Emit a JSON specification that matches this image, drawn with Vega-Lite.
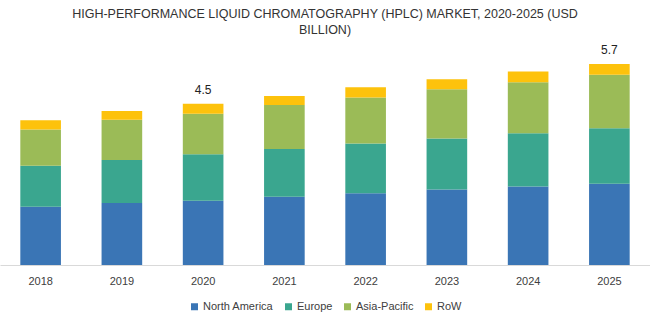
{
  "$schema": "https://vega.github.io/schema/vega-lite/v6.json",
  "width": 650,
  "height": 213,
  "autosize": {"type": "none"},
  "padding": {"top": 52, "left": 0, "right": 0, "bottom": 58},
  "background": "white",
  "title": {
    "text": ["HIGH-PERFORMANCE LIQUID CHROMATOGRAPHY (HPLC) MARKET, 2020-2025 (USD", "BILLION)"],
    "font": "Liberation Sans",
    "fontSize": 12.5,
    "fontWeight": "normal",
    "color": "#333333",
    "anchor": "middle",
    "lineHeight": 16,
    "offset": 8
  },
  "config": {
    "view": {"stroke": null},
    "font": "Liberation Sans"
  },
  "datasets": {
    "market": [
      {"year": "2018", "region": "North America", "order": 1, "value": 1.64},
      {"year": "2018", "region": "Europe", "order": 2, "value": 1.155},
      {"year": "2018", "region": "Asia-Pacific", "order": 3, "value": 1.025},
      {"year": "2018", "region": "RoW", "order": 4, "value": 0.26},
      {"year": "2019", "region": "North America", "order": 1, "value": 1.75},
      {"year": "2019", "region": "Europe", "order": 2, "value": 1.21},
      {"year": "2019", "region": "Asia-Pacific", "order": 3, "value": 1.13},
      {"year": "2019", "region": "RoW", "order": 4, "value": 0.25},
      {"year": "2020", "region": "North America", "order": 1, "value": 1.81},
      {"year": "2020", "region": "Europe", "order": 2, "value": 1.31},
      {"year": "2020", "region": "Asia-Pacific", "order": 3, "value": 1.14},
      {"year": "2020", "region": "RoW", "order": 4, "value": 0.28},
      {"year": "2021", "region": "North America", "order": 1, "value": 1.92},
      {"year": "2021", "region": "Europe", "order": 2, "value": 1.35},
      {"year": "2021", "region": "Asia-Pacific", "order": 3, "value": 1.24},
      {"year": "2021", "region": "RoW", "order": 4, "value": 0.25},
      {"year": "2022", "region": "North America", "order": 1, "value": 2.02},
      {"year": "2022", "region": "Europe", "order": 2, "value": 1.40},
      {"year": "2022", "region": "Asia-Pacific", "order": 3, "value": 1.30},
      {"year": "2022", "region": "RoW", "order": 4, "value": 0.29},
      {"year": "2023", "region": "North America", "order": 1, "value": 2.13},
      {"year": "2023", "region": "Europe", "order": 2, "value": 1.43},
      {"year": "2023", "region": "Asia-Pacific", "order": 3, "value": 1.39},
      {"year": "2023", "region": "RoW", "order": 4, "value": 0.28},
      {"year": "2024", "region": "North America", "order": 1, "value": 2.21},
      {"year": "2024", "region": "Europe", "order": 2, "value": 1.50},
      {"year": "2024", "region": "Asia-Pacific", "order": 3, "value": 1.44},
      {"year": "2024", "region": "RoW", "order": 4, "value": 0.30},
      {"year": "2025", "region": "North America", "order": 1, "value": 2.29},
      {"year": "2025", "region": "Europe", "order": 2, "value": 1.56},
      {"year": "2025", "region": "Asia-Pacific", "order": 3, "value": 1.51},
      {"year": "2025", "region": "RoW", "order": 4, "value": 0.30}
    ],
    "labels": [
      {"year": "2020", "total": 4.54, "label": "4.5"},
      {"year": "2025", "total": 5.66, "label": "5.7"}
    ]
  },
  "layer": [
    {
      "data": {"name": "market"},
      "mark": {"type": "bar"},
      "encoding": {
        "x": {
          "field": "year", "type": "nominal",
          "scale": {"paddingInner": 0.5, "paddingOuter": 0.25},
          "axis": {
            "title": null, "labelAngle": 0, "ticks": false,
            "domainColor": "#d9d9d9", "domainWidth": 1,
            "labelFontSize": 11, "labelColor": "#404040", "labelPadding": 10,
            "labelFont": "Liberation Sans"
          }
        },
        "y": {
          "field": "value", "type": "quantitative", "stack": "zero",
          "scale": {"domain": [0, 6]},
          "axis": null
        },
        "color": {
          "field": "region", "type": "nominal",
          "scale": {
            "domain": ["North America", "Europe", "Asia-Pacific", "RoW"],
            "range": ["#3a75b5", "#3aa68f", "#9bbb57", "#fdc20c"]
          },
          "legend": {
            "title": null, "orient": "none", "direction": "horizontal",
            "legendX": 189, "legendY": 249,
            "symbolType": "square", "symbolSize": 49, "symbolStrokeWidth": 0,
            "labelFontSize": 11, "labelColor": "#404040", "labelFont": "Liberation Sans",
            "columnPadding": 9, "labelOffset": 3
          }
        },
        "order": {"field": "order", "type": "quantitative"}
      }
    },
    {
      "data": {"name": "labels"},
      "mark": {"type": "text", "dy": -14, "fontSize": 12, "color": "#222222", "font": "Liberation Sans"},
      "encoding": {
        "x": {"field": "year", "type": "nominal"},
        "y": {"field": "total", "type": "quantitative"},
        "text": {"field": "label"}
      }
    }
  ]
}
